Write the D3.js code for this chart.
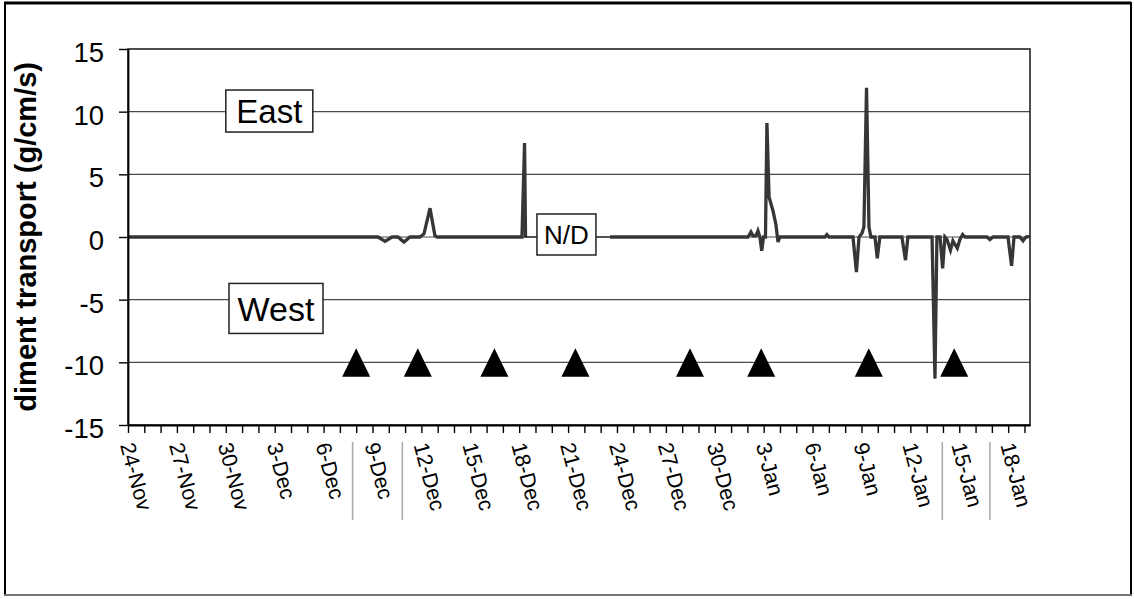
<!DOCTYPE html>
<html><head><meta charset="utf-8">
<script src="https://cdn.jsdelivr.net/npm/d3@7"></script>
<style>
body{margin:0;background:#fff}
svg{display:block}
text{font-family:"Liberation Sans", Arial, Helvetica, sans-serif;fill:#000}
</style>
</head><body>
<svg id="chart" width="1134" height="599"></svg>
<script>
// ---------- data ----------
const dayLabels = ["24-Nov","27-Nov","30-Nov","3-Dec","6-Dec","9-Dec","12-Dec","15-Dec","18-Dec","21-Dec","24-Dec","27-Dec","30-Dec","3-Jan","6-Jan","9-Jan","12-Jan","15-Jan","18-Jan"];
const labelEvery = 3;          // one label every third daily tick
const dayCount = 55.34;        // length of the record, in days since 24-Nov
const yTicks = [-15, -10, -5, 0, 5, 10, 15];

// days since 24-Nov, and sediment transport (g/cm/s); null = no data (N/D)
const days = [0,12.39,15.34,15.77,16.20,16.56,16.93,17.30,17.91,18.16,18.53,18.83,18.96,24.17,24.33,24.39,
  26.9,
  29.57,38.04,38.22,38.34,38.53,38.65,38.77,38.88,38.99,39.11,39.20,39.33,39.57,39.75,39.88,40.00,
  42.76,42.88,43.01,44.48,44.69,44.85,45.03,45.15,45.31,45.46,45.58,45.83,45.97,46.13,
  47.48,47.70,47.85,49.33,49.51,49.63,49.82,49.98,50.12,50.25,50.46,50.61,50.74,50.88,51.04,51.21,51.35,
  52.70,52.88,53.07,53.99,54.21,54.36,54.72,54.91,55.09,55.34];
const transport = [0,0,0,-0.35,0,0,-0.4,0,0,0.25,2.3,0.1,0,0,7.5,0,
  null,
  0,0,0.4,0.1,0.1,0.5,0,-1.1,0,0,9.1,3.2,2.1,1.0,-0.4,0,
  0,0.2,0,0,-2.8,0,0.3,0.8,11.9,0.8,0,0,-1.7,0,
  0,-1.85,0,0,-11.3,0,0,-2.5,0,-0.2,-1.05,-0.3,-0.6,-0.9,-0.2,0.2,0,
  0,-0.2,0,0,-2.3,0,0,-0.3,0,0.05];

// event markers (triangles) drawn at -10
const eventDays = [14.0, 17.78, 22.48, 27.45, 34.48, 38.85, 45.45, 50.69];
const eventLevel = -10;

// N/D gap
const gapStart = 24.39, gapEnd = 29.57;

// annotation boxes: label, day, value
const boxLabels = ["East", "West", "N/D"];
const boxDays = [8.67, 9.08, 26.9];
const boxValues = [10.05, -5.7, 0.2];

// faint separator lines seen under the date labels (days)
const separatorDays = [13.78, 16.83, 49.96, 52.88];

// ---------- drawing ----------
const svg = d3.select("#chart");
const M = {left:128, right:1030, top:49, bottom:425};

const x = d3.scaleLinear().domain([0, dayCount]).range([M.left, M.right]);
const y = d3.scaleLinear().domain([-15, 15]).range([M.bottom, M.top]);

// outer frame
svg.append("line").attr("x1",4).attr("x2",1131).attr("y1",3).attr("y2",3).attr("stroke","#000").attr("stroke-width",3);
svg.append("line").attr("x1",5).attr("x2",5).attr("y1",2).attr("y2",595).attr("stroke","#000").attr("stroke-width",2);
svg.append("line").attr("x1",1131).attr("x2",1131).attr("y1",2).attr("y2",595).attr("stroke","#000").attr("stroke-width",2);
svg.append("line").attr("x1",4).attr("x2",1132).attr("y1",595).attr("y2",595).attr("stroke","#777").attr("stroke-width",2);

// gridlines
svg.append("g").selectAll("line").data(yTicks.filter(v => v > -15 && v < 15)).join("line")
  .attr("x1", M.left).attr("x2", M.right)
  .attr("y1", d => y(d)).attr("y2", d => y(d))
  .attr("stroke", "#4a4a4a").attr("stroke-width", 1.2);

// plot border
svg.append("rect").attr("x", M.left).attr("y", M.top)
  .attr("width", M.right - M.left).attr("height", M.bottom - M.top)
  .attr("fill", "none").attr("stroke", "#222").attr("stroke-width", 1.6);

// series
const pts = days.map((d, i) => [d, transport[i]]);
const line = d3.line().defined(p => p[1] !== null).x(p => x(p[0])).y(p => y(p[1]));
svg.append("path").datum(pts).attr("d", line)
  .attr("fill", "none").attr("stroke", "#363636").attr("stroke-width", 3.3);

// N/D connector
svg.append("line").attr("x1", x(gapStart) - 1).attr("x2", x(gapEnd))
  .attr("y1", y(0)).attr("y2", y(0)).attr("stroke", "#000").attr("stroke-width", 1.2);

// annotation boxes
const boxStyle = {East:{w:87,h:42,fs:33}, West:{w:94,h:50,fs:34}, "N/D":{w:59,h:41,fs:26}};
boxLabels.forEach((lab, i) => {
  const st = boxStyle[lab];
  const cx = x(boxDays[i]), cy = y(boxValues[i]);
  svg.append("rect").attr("x", cx - st.w/2).attr("y", cy - st.h/2)
    .attr("width", st.w).attr("height", st.h)
    .attr("fill", "#fff").attr("stroke", "#222").attr("stroke-width", 1.5);
  svg.append("text").attr("x", cx).attr("y", cy + st.fs*0.716/2)
    .attr("text-anchor", "middle").attr("font-size", st.fs).text(lab);
});

// event triangles
svg.append("g").selectAll("path").data(eventDays).join("path")
  .attr("d", d => {
    const cx = x(d), cy = y(eventLevel);
    return `M${cx},${cy-14}L${cx+14},${cy+14.4}L${cx-14},${cy+14.4}Z`;
  })
  .attr("fill", "#000");

// y axis
const yAxis = svg.append("g").attr("transform", `translate(${M.left},0)`)
  .call(d3.axisLeft(y).tickValues(yTicks).tickFormat(d => String(d))
    .tickSize(9).tickSizeOuter(0).tickPadding(15));
yAxis.select(".domain").attr("stroke", "#000").attr("stroke-width", 1.8);
yAxis.selectAll(".tick line").attr("stroke", "#000").attr("stroke-width", 1.4);
yAxis.selectAll(".tick text").attr("font-size", 27.5).attr("dy", "0.45em")
  .attr("font-family", '"Liberation Sans", Arial, sans-serif').attr("fill", "#000");

// x axis
const xAxis = svg.append("g").attr("transform", `translate(0,${M.bottom})`)
  .call(d3.axisBottom(x).tickValues(d3.range(0, Math.floor(dayCount) + 1)).tickSize(8).tickSizeOuter(0).tickFormat(""));
xAxis.select(".domain").attr("stroke", "#000").attr("stroke-width", 1.8);
xAxis.selectAll(".tick line").attr("stroke", "#000").attr("stroke-width", 1.4);

// faint separators
svg.append("g").selectAll("line").data(separatorDays).join("line")
  .attr("x1", d => x(d)).attr("x2", d => x(d)).attr("y1", 442).attr("y2", 520)
  .attr("stroke", "#aaa").attr("stroke-width", 1.6);

// rotated date labels
svg.append("g").selectAll("text").data(dayLabels).join("text")
  .attr("transform", (d, i) => `translate(${x(i*labelEvery) - 8},445) rotate(75)`)
  .attr("font-size", 21.5).attr("fill", "#222").text(d => d);

// y-axis title (left part clipped in the original)
svg.append("text").attr("transform", "translate(36,62) rotate(-90)")
  .attr("text-anchor", "end").attr("font-size", 29).attr("font-weight", "bold")
  .text("diment transport (g/cm/s)");
</script>
</body></html>
